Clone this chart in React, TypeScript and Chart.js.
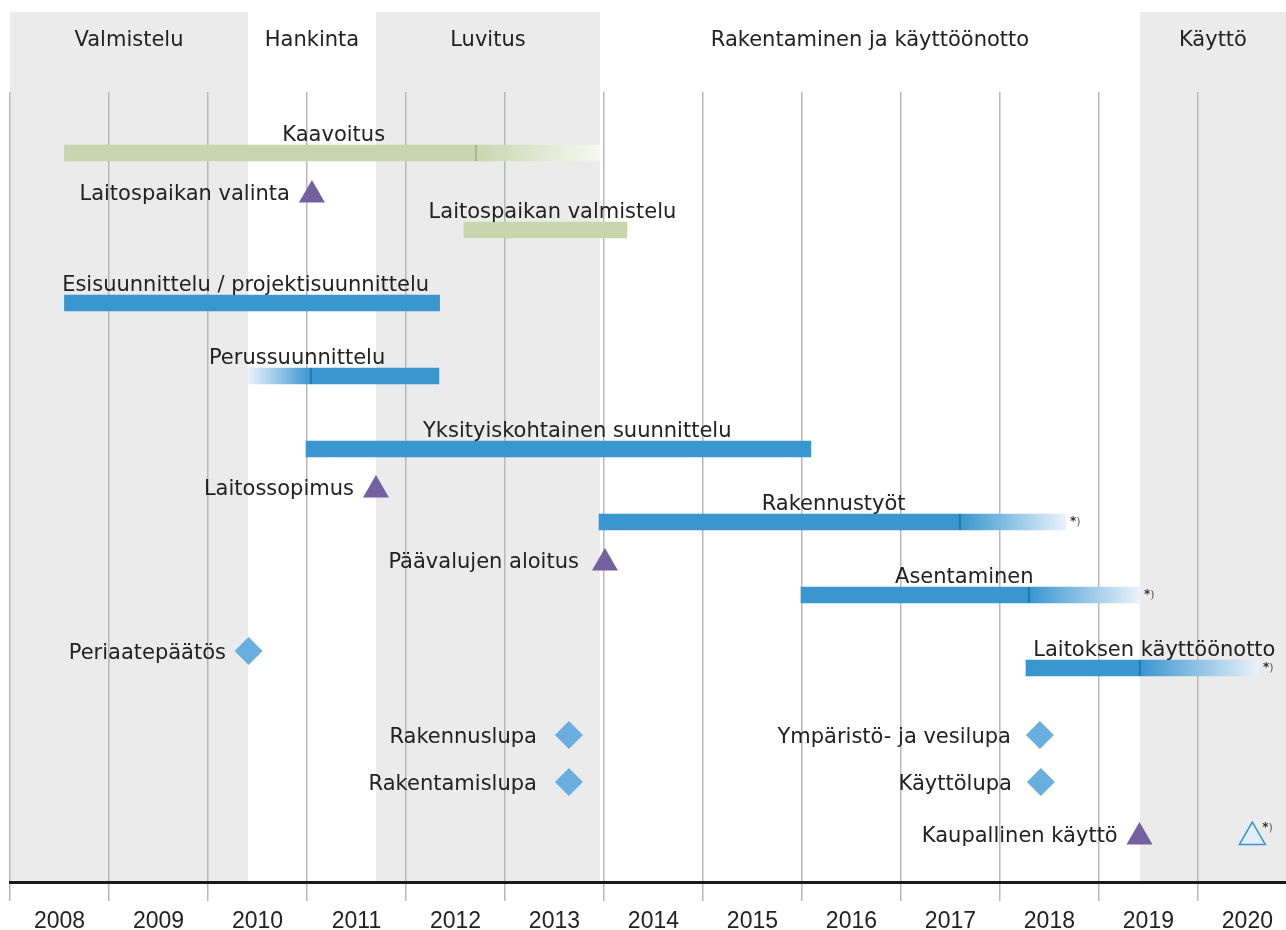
import React, { useEffect, useRef } from 'react';
import { Chart, registerables } from 'chart.js';

Chart.register(...registerables);

// ---------- Axis ----------
const yearLabels = ['2008', '2009', '2010', '2011', '2012', '2013', '2014', '2015', '2016', '2017', '2018', '2019', '2020'];
const X_MIN = 2008;
const X_MAX = 2020.89;
const ROW_MIN = 0;
const ROW_MAX = 79;

// ---------- Phases (header bands) ----------
const phaseNames = ['Valmistelu', 'Hankinta', 'Luvitus', 'Rakentaminen ja käyttöönotto', 'Käyttö'];
const phaseStart = [2008, 2010.404, 2011.697, 2013.96, 2019.414];
const phaseEnd = [2010.404, 2011.697, 2013.96, 2019.414, X_MAX];
const phaseShaded = [true, false, true, false, true];

// ---------- Task bars ----------
const barNames = [
  'Kaavoitus',
  'Laitospaikan valmistelu',
  'Esisuunnittelu / projektisuunnittelu',
  'Perussuunnittelu',
  'Yksityiskohtainen suunnittelu',
  'Rakennustyöt',
  'Asentaminen',
  'Laitoksen käyttöönotto',
];
const barGroup = ['green', 'green', 'blue', 'blue', 'blue', 'blue', 'blue', 'blue'];
const barRow = [6.1, 13.8, 21.1, 28.4, 35.7, 43.0, 50.3, 57.6];
const barSolidStart = [2008.55, 2012.586, 2008.55, 2011.04, 2010.99, 2013.95, 2015.99, 2018.263];
const barSolidEnd = [2012.707, 2014.232, 2012.34, 2012.333, 2016.09, 2017.596, 2018.293, 2019.414];
const barFadeTo: (number | null)[] = [2013.96, null, null, 2010.404, null, 2018.667, 2019.414, 2020.616];
const barNote = [false, false, false, false, false, true, true, true];
const barLabelAt = [2011.27, 2013.48, 2010.38, 2010.9, 2013.73, 2016.32, 2017.64, 2019.56];

// ---------- Milestones ----------
const msNames = [
  'Laitospaikan valinta',
  'Laitossopimus',
  'Päävalujen aloitus',
  'Periaatepäätös',
  'Rakennuslupa',
  'Ympäristö- ja vesilupa',
  'Rakentamislupa',
  'Käyttölupa',
  'Kaupallinen käyttö',
  '',
];
const msKind = ['event', 'event', 'event', 'permit', 'permit', 'permit', 'permit', 'permit', 'event', 'planned'];
const msYear = [2011.05, 2011.697, 2014.01, 2010.41, 2013.646, 2018.404, 2013.646, 2018.414, 2019.41, 2020.55];
const msRow = [10.3, 39.8, 47.1, 55.9, 64.3, 64.3, 69.0, 69.0, 74.5, 74.5];
const msLabelEnd: (number | null)[] = [2010.828, 2011.475, 2013.747, 2010.182, 2013.323, 2018.111, 2013.323, 2018.121, 2019.19, null];
const msNote = [false, false, false, false, false, false, false, false, false, true];

// ---------- Styles ----------
const GREEN = '#c8d6b0';
const GREEN_LIGHT = '#f6f8f0';
const GREEN_DARK = '#a5b98b';
const BLUE = '#3996cf';
const BLUE_LIGHT = '#eaf2fb';
const PLANNED_FILL = '#e2edf9';
const BLUE_DARK = '#2677ae';
const PURPLE = '#7262a0';
const DIAMOND = '#6aaee0';
const BAND = '#ebebeb';
const TEXT = '#222222';
const LABEL_FONT = '21px "DejaVu Sans", "Noto Sans", sans-serif';
const NOTE_STAR_FONT = 'bold 12px "DejaVu Sans", sans-serif';
const NOTE_FONT = '11px "DejaVu Sans", sans-serif';
const HEADER_H = 80;

const fadeFill = (solid: string, light: string) => (ctx: any) => {
  const chart = ctx.chart;
  const raw = ctx.raw;
  if (!chart.chartArea || !raw || !chart.scales.x) return solid;
  const xs = chart.scales.x;
  const p0 = xs.getPixelForValue(raw.x[0]);
  const p1 = xs.getPixelForValue(raw.x[1]);
  if (!isFinite(p0) || !isFinite(p1) || p0 === p1) return solid;
  const g = chart.ctx.createLinearGradient(p0, 0, p1, 0);
  g.addColorStop(0, solid);
  g.addColorStop(1, light);
  return g;
};

function buildDatasets() {
  const solid = (grp: string) =>
    barNames
      .map((_, i) => i)
      .filter((i) => barGroup[i] === grp)
      .map((i) => ({ x: [barSolidStart[i], barSolidEnd[i]], y: barRow[i] }));
  const fadeFrom = (i: number) => ((barFadeTo[i] as number) < barSolidStart[i] ? barSolidStart[i] : barSolidEnd[i]);
  const fade = (grp: string) =>
    barNames
      .map((_, i) => i)
      .filter((i) => barGroup[i] === grp && barFadeTo[i] !== null)
      .map((i) => ({ x: [fadeFrom(i), barFadeTo[i] as number], y: barRow[i] }));
  const joints = (grp: string) =>
    barNames
      .map((_, i) => i)
      .filter((i) => barGroup[i] === grp && barFadeTo[i] !== null)
      .map((i) => ({ x: fadeFrom(i), y: barRow[i] }));
  const points = (kind: string) =>
    msNames
      .map((_, i) => i)
      .filter((i) => msKind[i] === kind)
      .map((i) => ({ x: msYear[i], y: msRow[i] }));

  const barBase = { type: 'bar', grouped: false, barThickness: 16, borderWidth: 0, indexAxis: 'y' };
  const pointBase = { type: 'scatter', showLine: false, borderWidth: 0 };

  return [
    { ...pointBase, label: 'joint-green', data: joints('green'), pointStyle: 'line', pointRotation: 90, pointRadius: 8, borderColor: GREEN_DARK, pointBorderColor: GREEN_DARK, pointBorderWidth: 2, order: 0 },
    { ...pointBase, label: 'joint-blue', data: joints('blue'), pointStyle: 'line', pointRotation: 90, pointRadius: 8, borderColor: BLUE_DARK, pointBorderColor: BLUE_DARK, pointBorderWidth: 2, order: 0 },
    { ...pointBase, label: 'events', data: points('event'), pointStyle: 'triangle', pointRadius: 15, pointBackgroundColor: PURPLE, backgroundColor: PURPLE, pointBorderWidth: 0, order: 0 },
    { ...pointBase, label: 'permits', data: points('permit'), pointStyle: 'rectRot', pointRadius: 14, pointBackgroundColor: DIAMOND, backgroundColor: DIAMOND, pointBorderWidth: 0, order: 0 },
    { ...pointBase, label: 'planned', data: points('planned'), pointStyle: 'triangle', pointRadius: 15, pointBackgroundColor: PLANNED_FILL, pointBorderColor: BLUE, pointBorderWidth: 1.5, order: 0 },
    { ...barBase, label: 'green', data: solid('green'), backgroundColor: GREEN, order: 1 },
    { ...barBase, label: 'green-fade', data: fade('green'), backgroundColor: fadeFill(GREEN, GREEN_LIGHT), order: 1 },
    { ...barBase, label: 'blue', data: solid('blue'), backgroundColor: BLUE, order: 1 },
    { ...barBase, label: 'blue-fade', data: fade('blue'), backgroundColor: fadeFill(BLUE, BLUE_LIGHT), order: 1 },
  ];
}

function drawNote(ctx: CanvasRenderingContext2D, x: number, y: number) {
  ctx.textAlign = 'left';
  ctx.textBaseline = 'alphabetic';
  ctx.font = NOTE_STAR_FONT;
  ctx.fillStyle = '#333';
  ctx.fillText('*', x, y);
  const w = ctx.measureText('*').width;
  ctx.font = NOTE_FONT;
  ctx.fillStyle = '#555';
  ctx.fillText(')', x + w, y);
}

const timelinePlugin = {
  id: 'timeline',
  beforeDraw(chart: any) {
    const { ctx, chartArea } = chart;
    const xs = chart.scales.x;
    const top = chartArea.top - HEADER_H;
    ctx.save();
    phaseNames.forEach((name, i) => {
      const x0 = xs.getPixelForValue(phaseStart[i]);
      const x1 = xs.getPixelForValue(phaseEnd[i]);
      if (phaseShaded[i]) {
        ctx.fillStyle = BAND;
        ctx.fillRect(x0, top, x1 - x0, chartArea.bottom - top);
      }
      ctx.fillStyle = TEXT;
      ctx.font = LABEL_FONT;
      ctx.textAlign = 'center';
      ctx.textBaseline = 'alphabetic';
      ctx.fillText(name, (x0 + x1) / 2, top + 34);
    });
    ctx.restore();
  },
  afterDatasetsDraw(chart: any) {
    const { ctx } = chart;
    const xs = chart.scales.x;
    const ys = chart.scales.y;
    ctx.save();
    barNames.forEach((name, i) => {
      const py = ys.getPixelForValue(barRow[i]);
      ctx.textBaseline = 'alphabetic';
      ctx.font = LABEL_FONT;
      ctx.fillStyle = TEXT;
      ctx.textAlign = 'center';
      ctx.fillText(name, xs.getPixelForValue(barLabelAt[i]), py - 12);
      if (barNote[i] && barFadeTo[i] !== null) {
        drawNote(ctx, xs.getPixelForValue(barFadeTo[i] as number) + 4, py + 3);
      }
    });
    msNames.forEach((name, i) => {
      const py = ys.getPixelForValue(msRow[i]);
      const px = xs.getPixelForValue(msYear[i]);
      if (name && msLabelEnd[i] !== null) {
        ctx.textBaseline = 'alphabetic';
        ctx.font = LABEL_FONT;
        ctx.fillStyle = TEXT;
        ctx.textAlign = 'right';
        const dy = msKind[i] === 'permit' ? 7.5 : 4.5;
        ctx.fillText(name, xs.getPixelForValue(msLabelEnd[i] as number), py + dy);
      }
      if (msNote[i]) {
        drawNote(ctx, px + 10, py - 6);
      }
    });
    ctx.restore();
  },
};

export default function App() {
  const canvasRef = useRef<HTMLCanvasElement | null>(null);

  useEffect(() => {
    const canvas = canvasRef.current;
    if (!canvas) return;
    const chart = new Chart(canvas, {
      type: 'bar',
      data: { datasets: buildDatasets() as any },
      options: {
        indexAxis: 'y',
        animation: false,
        responsive: false,
        devicePixelRatio: 1,
        events: [],
        layout: { autoPadding: false, padding: { top: 92, left: 10, right: 0, bottom: 0 } },
        plugins: { legend: { display: false }, tooltip: { enabled: false } },
        scales: {
          x: {
            type: 'linear',
            position: 'bottom',
            min: X_MIN,
            max: X_MAX,
            offset: false,
            afterFit: (scale: any) => {
              scale.height = 48;
              scale.paddingLeft = 0;
              scale.paddingRight = 0;
            },
            grid: { color: '#b8b8b8', lineWidth: 1.5, tickLength: 19, drawTicks: true, offset: false },
            border: { display: true, color: '#1a1a1a', width: 3 },
            ticks: {
              stepSize: 1,
              autoSkip: false,
              includeBounds: false,
              maxRotation: 0,
              minRotation: 0,
              labelOffset: 49.5,
              padding: 7,
              color: TEXT,
              font: { family: '"Liberation Sans", Arial, sans-serif', size: 23 },
              callback: (_v: any, i: number) => yearLabels[i] ?? '',
            },
          },
          y: {
            type: 'linear',
            display: false,
            reverse: true,
            min: ROW_MIN,
            max: ROW_MAX,
            offset: false,
            grid: { offset: false },
          },
        },
      } as any,
      plugins: [timelinePlugin],
    });
    return () => chart.destroy();
  }, []);

  return (
    <div style={{ position: 'absolute', left: 0, top: 0, width: 1286, height: 930, background: '#fff' }}>
      <canvas ref={canvasRef} width={1286} height={930} style={{ display: 'block', width: 1286, height: 930 }} />
    </div>
  );
}
